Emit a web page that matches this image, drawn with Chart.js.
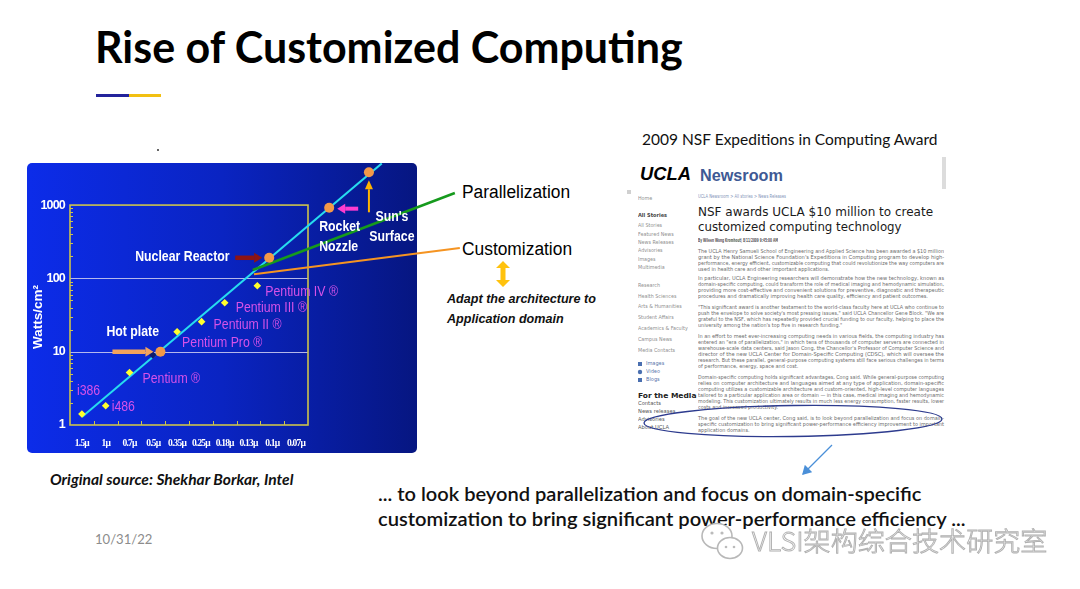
<!DOCTYPE html>
<html>
<head>
<meta charset="utf-8">
<script src="https://cdn.jsdelivr.net/npm/chart.js@4.4.0/dist/chart.umd.min.js"></script>
<style>
html,body{margin:0;padding:0;background:#fff;}
#slide{position:relative;width:1080px;height:589px;overflow:hidden;background:#fff;}
.abs{position:absolute;white-space:nowrap;line-height:1;}
#c{position:absolute;left:0;top:0;z-index:2;pointer-events:none;}
#wm{z-index:3;}
</style>
</head>
<body>
<div id="slide">
  <div class="abs" style="left:95px;top:21px;font:700 43px Lato,sans-serif;color:#000;">Rise of Customized Computing</div>
  <div class="abs" style="left:96px;top:94px;width:33px;height:3px;background:#23239b;"></div>
  <div class="abs" style="left:129px;top:94px;width:32px;height:3px;background:#f2c011;"></div>
  <div class="abs" style="left:157px;top:149px;width:2px;height:2px;background:#333;border-radius:1px;"></div>
  <canvas id="c" width="1080" height="589"></canvas>
  <svg class="abs" id="deco" width="1080" height="589" style="left:0;top:0;z-index:1;">
    <defs>
      <marker id="ah" markerWidth="8" markerHeight="8" refX="6" refY="4" orient="auto">
        <path d="M0,0 L7,4 L0,8 z" fill="#4a8fd8"/>
      </marker>
    </defs>
    <path d="M503,261 L510,268 L505.5,268 L505.5,280 L510,280 L503,287 L496,280 L500.5,280 L500.5,268 L496,268 Z" fill="#ffc20e"/>
    <ellipse cx="793" cy="421" rx="149" ry="15.5" fill="none" stroke="#2d3b8e" stroke-width="1.3" transform="rotate(-0.8 793 421)"/>
    <line x1="832" y1="445" x2="803" y2="474" stroke="#4a8fd8" stroke-width="1.3" marker-end="url(#ah)"/>
    <rect x="942" y="157" width="4" height="32" fill="#dcdcdc"/>
    <rect x="627" y="190" width="4" height="4" fill="#d0d0d0"/>
    <rect x="638" y="362" width="4" height="4" fill="#4a6fb0"/>
    <circle cx="640" cy="372" r="2.2" fill="#4a6fb0"/>
    <rect x="638" y="378" width="4" height="4" fill="#4a6fb0"/>
  </svg>
  <svg class="abs" id="wm" width="60" height="50" style="left:698px;top:518px;">
    <ellipse cx="19" cy="18" rx="15" ry="12.5" fill="#fff" stroke="#b8b8b8" stroke-width="1.6"/>
    <ellipse cx="32" cy="30" rx="12.5" ry="10.5" fill="#fff" stroke="#b8b8b8" stroke-width="1.6"/>
    <circle cx="14" cy="15" r="1.6" fill="#bbb"/><circle cx="24" cy="15" r="1.6" fill="#bbb"/>
    <circle cx="28" cy="29" r="1.3" fill="#bbb"/><circle cx="36" cy="29" r="1.3" fill="#bbb"/>
  </svg>
</div>
<script>
// ---------------- data ----------------
const xLabels = ['1.5μ','1μ','0.7μ','0.5μ','0.35μ','0.25μ','0.18μ','0.13μ','0.1μ','0.07μ'];
const yTicks = [1, 10, 100, 1000];

const trendX = [0, 12.6];
const trendW = [1.29, 3700];

const parallelX = [7.18, 15.67];
const parallelW = [130, 1460];

const customX = [7.23, 15.88];
const customW = [114, 260];

const chipNames = ['i386', 'i486', 'Pentium ®', '', 'Pentium Pro ®', 'Pentium II ®', 'Pentium III ®', 'Pentium IV ®'];
const chipX = [0, 1, 2, 2.98, 4, 5.03, 6, 7.37];
const chipW = [1.41, 1.83, 5.2, 9, 18.7, 25.7, 46.6, 79.5];

const sourceNames = ['Hot plate', 'Nuclear Reactor', 'Rocket Nozzle', "Sun's Surface"];
const sourceX = [3.3, 7.87, 10.39, 12.06];
const sourceW = [10, 191, 922, 2800];

// ---------------- styles ----------------
const SANS = '"Liberation Sans",Arial,sans-serif';
const COND = 0.82;
const PANEL = {x:27, y:163, w:390, h:290};
const chipFill = ['#ffff2e','#ffff2e','#ffff2e','#101a6a','#ffff2e','#ffff2e','#ffff2e','#ffff2e'];
const chipLabelOffset = [[-5,-23],[6,1],[13,6],null,[5,11],[12,3],[11,5],[8,6]];
const sourceStyle = [
  {dx:-54, dy:-20, align:'left', lines:1, arrow:[-48,0,-7,0], color:'#f3a35c', w:4.5, head:8, hw:5},
  {dx:-134, dy:-1, align:'left', lines:1, arrow:[-34,0,-7,0], color:'#8d1414', w:4.5, head:8, hw:5},
  {dx:-10, dy:19, align:'left', lines:2, arrow:[29,1,8,1], color:'#ff3ccf', w:4, head:8, hw:5},
  {dx:23, dy:45, align:'center', lines:2, arrow:[0,40,0,8], color:'#ffb400', w:2, head:9, hw:4}
];

function pts(xs, ys){ return xs.map((x,i)=>({x:x, y:ys[i]})); }

function condText(ctx, t, x, y, sx){
  ctx.save(); ctx.translate(x, y); ctx.scale(sx, 1); ctx.fillText(t, 0, 0); ctx.restore();
}

function arrow(ctx, x1, y1, x2, y2, st){
  const a = Math.atan2(y2-y1, x2-x1);
  const bx = x2 - Math.cos(a)*st.head, by = y2 - Math.sin(a)*st.head;
  ctx.strokeStyle = st.color; ctx.fillStyle = st.color; ctx.lineWidth = st.w; ctx.lineCap='butt';
  ctx.beginPath(); ctx.moveTo(x1,y1); ctx.lineTo(bx,by); ctx.stroke();
  ctx.beginPath();
  ctx.moveTo(x2,y2);
  ctx.lineTo(bx + Math.sin(a)*st.hw, by - Math.cos(a)*st.hw);
  ctx.lineTo(bx - Math.sin(a)*st.hw, by + Math.cos(a)*st.hw);
  ctx.closePath(); ctx.fill();
}

const panelPlugin = {
  id:'panel',
  beforeDraw(chart){
    const ctx = chart.ctx;
    ctx.save();
    const g = ctx.createLinearGradient(PANEL.x,0,PANEL.x+PANEL.w,0);
    g.addColorStop(0,'#0c2ce9'); g.addColorStop(0.5,'#0a24c2'); g.addColorStop(1,'#061681');
    ctx.fillStyle = g;
    ctx.beginPath(); ctx.roundRect(PANEL.x,PANEL.y,PANEL.w,PANEL.h,5); ctx.fill();
    ctx.restore();
    // condensed look for the axis tick labels drawn next
    ctx.letterSpacing = '-0.8px';
  },
  beforeDatasetsDraw(chart){
    const {ctx, scales:{x, y}} = chart;
    ctx.letterSpacing = '0px';
    const l = x.getPixelForValue(-0.5), r = x.getPixelForValue(xLabels.length - 0.5);
    const t = y.getPixelForValue(yTicks[yTicks.length-1]), b = y.getPixelForValue(yTicks[0]);
    ctx.save();
    ctx.strokeStyle = 'rgba(200,200,238,0.9)'; ctx.lineWidth = 1;
    yTicks.slice(1,-1).forEach(v=>{
      const py = Math.round(y.getPixelForValue(v)) + 0.5;
      ctx.beginPath(); ctx.moveTo(l,py); ctx.lineTo(r,py); ctx.stroke();
    });
    ctx.strokeStyle = '#cdc44c';
    for (let k=0; k<yTicks.length-1; k++){
      for (let m=2; m<10; m++){
        const py = Math.round(y.getPixelForValue(m*yTicks[k])) + 0.5;
        ctx.beginPath(); ctx.moveTo(l,py); ctx.lineTo(l+3,py); ctx.stroke();
      }
    }
    for (let i=0; i<xLabels.length-1; i++){
      const px = Math.round(x.getPixelForValue(i+0.5)) + 0.5;
      ctx.beginPath(); ctx.moveTo(px,b); ctx.lineTo(px,b-4); ctx.stroke();
    }
    ctx.lineWidth = 1.6;
    ctx.strokeRect(l,t,r-l,b-t);
    ctx.restore();
  },
  afterDatasetsDraw(chart){
    const {ctx, scales:{x, y}} = chart;
    ctx.save();
    ctx.textBaseline = 'middle';
    ctx.font = '15px ' + SANS; ctx.fillStyle = '#d752e8'; ctx.textAlign='left';
    chipNames.forEach((n,i)=>{
      if (!n || !chipLabelOffset[i]) return;
      const px = x.getPixelForValue(chipX[i]), py = y.getPixelForValue(chipW[i]);
      condText(ctx, n, px + chipLabelOffset[i][0], py + chipLabelOffset[i][1], COND);
    });
    sourceNames.forEach((n,i)=>{
      const st = sourceStyle[i];
      const px = x.getPixelForValue(sourceX[i]), py = y.getPixelForValue(sourceW[i]);
      const a = st.arrow;
      arrow(ctx, px+a[0], py+a[1], px+a[2], py+a[3], st);
      ctx.font = 'bold 15px ' + SANS; ctx.fillStyle = '#ffffff'; ctx.textAlign = st.align;
      const lines = st.lines === 2 ? n.split(' ') : [n];
      lines.forEach((ln,j)=> condText(ctx, ln, px+st.dx, py+st.dy+j*20, COND));
    });
    ctx.restore();
  },
  afterDraw(chart){
    const ctx = chart.ctx;
    ctx.save();
    ctx.translate(38, 317); ctx.rotate(-Math.PI/2);
    ctx.font = 'bold 13.5px ' + SANS; ctx.fillStyle='#fff'; ctx.textAlign='center'; ctx.textBaseline='middle';
    ctx.fillText('Watts/cm²', 0, 0);
    ctx.restore();
  }
};

new Chart(document.getElementById('c'), {
  type:'scatter',
  data:{datasets:[
    {label:'Power density trend', data:pts(trendX,trendW), showLine:true, borderColor:'#27dcef', borderWidth:2, pointRadius:0, order:5},
    {label:'Parallelization', data:pts(parallelX,parallelW), showLine:true, borderColor:'#169a1d', borderWidth:2.5, pointRadius:0, order:4},
    {label:'Customization', data:pts(customX,customW), showLine:true, borderColor:'#f59422', borderWidth:2, pointRadius:0, order:3},
    {label:'Intel processors', data:pts(chipX,chipW), showLine:false, pointStyle:'rectRot', pointRadius:3.8, backgroundColor:chipFill, pointBackgroundColor:chipFill, borderWidth:0, pointBorderWidth:0, order:2},
    {label:'Heat sources', data:pts(sourceX,sourceW), showLine:false, pointStyle:'circle', pointRadius:5, backgroundColor:'#f39848', pointBackgroundColor:'#f39848', borderWidth:0, pointBorderWidth:0, order:1}
  ]},
  options:{
    responsive:false, animation:false, devicePixelRatio:1,
    layout:{padding:{left:0, top:163, right:617.3, bottom:134}},
    plugins:{legend:{display:false}, tooltip:{enabled:false}},
    scales:{
      x:{type:'linear', min:-0.5, max:16,
        grid:{display:false, drawTicks:false}, border:{display:false},
        afterBuildTicks:s=>{ s.ticks = xLabels.map((_,i)=>({value:i})); },
        afterFit:s=>{ s.height = 30; },
        ticks:{autoSkip:false, maxRotation:0, minRotation:0, padding:13, color:'#ffffff',
          font:{family:'"Liberation Serif",serif', size:9.5, weight:'bold'},
          callback:v=> (xLabels[v] !== undefined ? xLabels[v] : '')}},
      y:{type:'logarithmic', min:1, max:3750,
        grid:{display:false, drawTicks:false}, border:{display:false},
        afterBuildTicks:s=>{ s.ticks = yTicks.map(v=>({value:v})); },
        afterFit:s=>{ s.width = 70; },
        ticks:{autoSkip:false, padding:5, color:'#ffffff',
          font:{family:SANS, size:12.5, weight:'bold'},
          callback:v=>String(v)}}
    }
  },
  plugins:[panelPlugin]
});

// ---------------- slide text ----------------
const slide = document.getElementById('slide');
function put(x, yc, text, o){
  const d = document.createElement('div');
  d.className = 'abs'; d.textContent = text;
  const size = o.size, base = size < 10 ? 20 : size, s = size/base;
  d.style.fontFamily = o.family || '"DejaVu Sans",sans-serif';
  d.style.fontSize = base + 'px';
  if (o.weight) d.style.fontWeight = o.weight;
  if (o.italic) d.style.fontStyle = 'italic';
  d.style.color = o.color || '#000';
  if (o.z) d.style.zIndex = o.z;
  if (o.extra) Object.assign(d.style, o.extra);
  d.style.left = x + 'px';
  d.style.top = (yc - s*(o.k || 0.55)*base) + 'px';
  slide.appendChild(d);
  let sx = s;
  if (o.width) sx = o.width / d.offsetWidth;
  d.style.transformOrigin = '0 0';
  d.style.transform = 'scale(' + sx + ',' + s + ')';
  return sx;
}
function para(x, y0, lines, o){
  const lh = o.lh || 5.85; const sxs = [];
  lines.forEach((ln,i)=>{
    if (i < lines.length-1) sxs.push(put(x, y0+i*lh, ln, Object.assign({}, o, {width:o.fit})));
    else {
      const avg = sxs.length ? sxs.reduce((a,b)=>a+b,0)/sxs.length : null;
      put(x, y0+i*lh, ln, Object.assign({}, o));
      if (avg) { const el = slide.lastChild; el.style.transform = 'scale(' + avg + ',' + (o.size/20) + ')'; }
    }
  });
}

put(462, 193, 'Parallelization', {size:18, family:SANS, color:'#000', width:108});
put(462, 250, 'Customization', {size:18, family:SANS, color:'#000', width:110});
put(447, 299, 'Adapt the architecture to', {size:13, family:SANS, weight:'bold', italic:true, color:'#111', width:149});
put(447, 319, 'Application domain', {size:13, family:SANS, weight:'bold', italic:true, color:'#111', width:117});

put(642, 141, '2009 NSF Expeditions in Computing Award', {size:15, family:'Lato,sans-serif', color:'#111', k:0.58, width:296});
put(50, 481, 'Original source: Shekhar Borkar, Intel', {size:15, family:'Lato,sans-serif', weight:'bold', italic:true, color:'#111', k:0.58, width:243});
put(95, 540, '10/31/22', {size:14, family:'Lato,sans-serif', color:'#8c8c8c', k:0.58, width:57});
put(378, 495, '... to look beyond parallelization and focus on domain-specific', {size:19.5, family:'Lato,sans-serif', weight:600, color:'#111', k:0.58, width:543});
put(378, 520, 'customization to bring significant power-performance efficiency ...', {size:19.5, family:'Lato,sans-serif', weight:600, color:'#111', k:0.58, width:587});
put(752, 541, 'VLSI架构综合技术研究室', {size:26, family:'"Noto Sans CJK SC",sans-serif', weight:300, color:'#ffffff', z:3, width:295, extra:{webkitTextStroke:'0.9px #b0b0b0'}});

// UCLA newsroom screenshot
put(640, 174, 'UCLA', {size:18, family:SANS, weight:'bold', italic:true, color:'#000', k:0.5, width:51});
put(700, 175, 'Newsroom', {size:17, family:SANS, weight:'bold', color:'#3e5994', k:0.5, width:83});
const navGray = {size:4.8, color:'#8f8f8f'};
[['Home',199],['All Stories',226],['Featured News',235],['News Releases',243],['Advisories',251],['Images',260],['Multimedia',268],
 ['Research',286],['Health Sciences',297],['Arts & Humanities',307],['Student Affairs',318],['Academics & Faculty',329],['Campus News',340],['Media Contacts',351]]
 .forEach(a=>put(638, a[1], a[0], navGray));
put(638, 216, 'All Stories', {size:5, weight:'bold', color:'#444'});
[['Images',364],['Video',372],['Blogs',380]].forEach(a=>put(646, a[1], a[0], {size:5, color:'#5874aa'}));
put(638, 396, 'For the Media', {size:7.5, weight:'bold', color:'#222'});
[['Contacts',404],['News releases',412],['Advisories',420],['About UCLA',428]].forEach(a=>put(638, a[1], a[0], {size:5.2, color:'#555'}));

put(698, 196, 'UCLA Newsroom > All stories > News Releases', {size:4.5, color:'#7f93b8', width:88});
put(698, 213, 'NSF awards UCLA $10 million to create', {size:11.5, color:'#1a1a1a', width:235});
put(698, 228, 'customized computing technology', {size:11.5, color:'#1a1a1a', width:204});
put(698, 240, 'By Wileen Wong Kromhout| 8/11/2009 9:45:00 AM', {size:4.5, weight:'bold', color:'#555', width:80});

const pOpt = {size:4.8, color:'#6c6c6c', fit:246};
para(698, 252, [
 'The UCLA Henry Samueli School of Engineering and Applied Science has been awarded a $10 million',
 'grant by the National Science Foundation\'s Expeditions in Computing program to develop high-',
 'performance, energy efficient, customizable computing that could revolutionize the way computers are',
 'used in health care and other important applications.'], pOpt);
para(698, 279, [
 'In particular, UCLA Engineering researchers will demonstrate how the new technology, known as',
 'domain-specific computing, could transform the role of medical imaging and hemodynamic simulation,',
 'providing more cost-effective and convenient solutions for preventive, diagnostic and therapeutic',
 'procedures and dramatically improving health care quality, efficiency and patient outcomes.'], pOpt);
para(698, 308, [
 '"This significant award is another testament to the world-class faculty here at UCLA who continue to',
 'push the envelope to solve society\'s most pressing issues," said UCLA Chancellor Gene Block. "We are',
 'grateful to the NSF, which has repeatedly provided crucial funding to our faculty, helping to place the',
 'university among the nation\'s top five in research funding."'], pOpt);
para(698, 337, [
 'In an effort to meet ever-increasing computing needs in various fields, the computing industry has',
 'entered an "era of parallelization," in which tens of thousands of computer servers are connected in',
 'warehouse-scale data centers, said Jason Cong, the Chancellor\'s Professor of Computer Science and',
 'director of the new UCLA Center for Domain-Specific Computing (CDSC), which will oversee the',
 'research. But these parallel, general-purpose computing systems still face serious challenges in terms',
 'of performance, energy, space and cost.'], pOpt);
para(698, 378, [
 'Domain-specific computing holds significant advantages, Cong said. While general-purpose computing',
 'relies on computer architecture and languages aimed at any type of application, domain-specific',
 'computing utilizes a customizable architecture and custom-oriented, high-level computer languages',
 'tailored to a particular application area or domain \u2014 in this case, medical imaging and hemodynamic',
 'modeling. This customization ultimately results in much less energy consumption, faster results, lower',
 'costs and increased productivity.'], pOpt);
para(698, 419, [
 'The goal of the new UCLA center, Cong said, is to look beyond parallelization and focus on domain-',
 'specific customization to bring significant power-performance efficiency improvement to important',
 'application domains.'], pOpt);
</script>
</body>
</html>
